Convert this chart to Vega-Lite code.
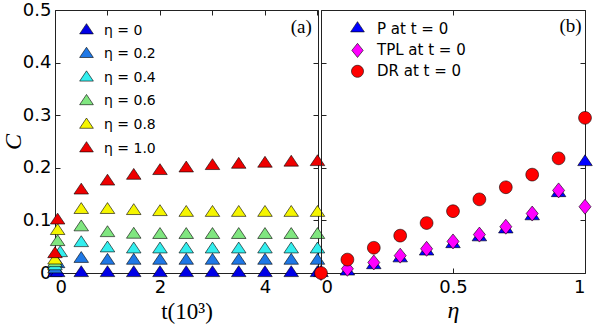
{
  "$schema": "https://vega.github.io/schema/vega-lite/v6.json",
  "background": "white",
  "padding": {"left": 0, "top": 0, "right": 0, "bottom": 0},
  "spacing": 3,
  "bounds": "flush",
  "resolve": {"scale": {"fill": "independent", "shape": "independent"}, "legend": {"fill": "independent", "shape": "independent"}},
  "config": {
    "view": {"stroke": "#222", "strokeWidth": 1},
    "axis": {
      "grid": false, "domain": false,
      "labelFont": "DejaVu Sans", "labelFontSize": 18, "labelColor": "#000",
      "tickColor": "#222", "tickSize": 5, "offset": -5, "labelPadding": 5,
      "titleFont": "Liberation Serif", "titleFontSize": 23, "titleFontWeight": "normal", "titleColor": "#000"
    }
  },
  "datasets": {
    "a": [
      {"t": 0, "C": 0, "g": "η = 0"}, {"t": 0.05, "C": 0, "g": "η = 0"},
      {"t": 0.5, "C": 0, "g": "η = 0"}, {"t": 1, "C": 0, "g": "η = 0"}, {"t": 1.5, "C": 0, "g": "η = 0"}, {"t": 2, "C": 0, "g": "η = 0"}, {"t": 2.5, "C": 0, "g": "η = 0"},
      {"t": 3, "C": 0, "g": "η = 0"}, {"t": 3.5, "C": 0, "g": "η = 0"}, {"t": 4, "C": 0, "g": "η = 0"}, {"t": 4.5, "C": 0, "g": "η = 0"}, {"t": 5, "C": 0, "g": "η = 0"},
      {"t": 0, "C": 0.007, "g": "η = 0.2"}, {"t": 0.05, "C": 0.017, "g": "η = 0.2"},
      {"t": 0.5, "C": 0.027, "g": "η = 0.2"}, {"t": 1, "C": 0.0235, "g": "η = 0.2"}, {"t": 1.5, "C": 0.0235, "g": "η = 0.2"}, {"t": 2, "C": 0.0235, "g": "η = 0.2"}, {"t": 2.5, "C": 0.0235, "g": "η = 0.2"},
      {"t": 3, "C": 0.0235, "g": "η = 0.2"}, {"t": 3.5, "C": 0.0235, "g": "η = 0.2"}, {"t": 4, "C": 0.0235, "g": "η = 0.2"}, {"t": 4.5, "C": 0.0235, "g": "η = 0.2"}, {"t": 5, "C": 0.0235, "g": "η = 0.2"},
      {"t": 0, "C": 0.013, "g": "η = 0.4"}, {"t": 0.1, "C": 0.038, "g": "η = 0.4"},
      {"t": 0.5, "C": 0.057, "g": "η = 0.4"}, {"t": 1, "C": 0.047, "g": "η = 0.4"}, {"t": 1.5, "C": 0.045, "g": "η = 0.4"}, {"t": 2, "C": 0.045, "g": "η = 0.4"}, {"t": 2.5, "C": 0.045, "g": "η = 0.4"},
      {"t": 3, "C": 0.045, "g": "η = 0.4"}, {"t": 3.5, "C": 0.045, "g": "η = 0.4"}, {"t": 4, "C": 0.045, "g": "η = 0.4"}, {"t": 4.5, "C": 0.045, "g": "η = 0.4"}, {"t": 5, "C": 0.045, "g": "η = 0.4"},
      {"t": 0, "C": 0.019, "g": "η = 0.6"}, {"t": 0.05, "C": 0.059, "g": "η = 0.6"},
      {"t": 0.5, "C": 0.087, "g": "η = 0.6"}, {"t": 1, "C": 0.076, "g": "η = 0.6"}, {"t": 1.5, "C": 0.073, "g": "η = 0.6"}, {"t": 2, "C": 0.0725, "g": "η = 0.6"}, {"t": 2.5, "C": 0.0725, "g": "η = 0.6"},
      {"t": 3, "C": 0.0725, "g": "η = 0.6"}, {"t": 3.5, "C": 0.0725, "g": "η = 0.6"}, {"t": 4, "C": 0.0725, "g": "η = 0.6"}, {"t": 4.5, "C": 0.0725, "g": "η = 0.6"}, {"t": 5, "C": 0.0725, "g": "η = 0.6"},
      {"t": 0, "C": 0.024, "g": "η = 0.8"}, {"t": 0.05, "C": 0.080, "g": "η = 0.8"},
      {"t": 0.5, "C": 0.120, "g": "η = 0.8"}, {"t": 1, "C": 0.120, "g": "η = 0.8"}, {"t": 1.5, "C": 0.118, "g": "η = 0.8"}, {"t": 2, "C": 0.116, "g": "η = 0.8"}, {"t": 2.5, "C": 0.1145, "g": "η = 0.8"},
      {"t": 3, "C": 0.1145, "g": "η = 0.8"}, {"t": 3.5, "C": 0.1145, "g": "η = 0.8"}, {"t": 4, "C": 0.1145, "g": "η = 0.8"}, {"t": 4.5, "C": 0.1145, "g": "η = 0.8"}, {"t": 5, "C": 0.1145, "g": "η = 0.8"},
      {"t": 0, "C": 0.036, "g": "η = 1.0"}, {"t": 0.05, "C": 0.100, "g": "η = 1.0"},
      {"t": 0.5, "C": 0.157, "g": "η = 1.0"}, {"t": 1, "C": 0.174, "g": "η = 1.0"}, {"t": 1.5, "C": 0.185, "g": "η = 1.0"}, {"t": 2, "C": 0.194, "g": "η = 1.0"}, {"t": 2.5, "C": 0.199, "g": "η = 1.0"},
      {"t": 3, "C": 0.2035, "g": "η = 1.0"}, {"t": 3.5, "C": 0.206, "g": "η = 1.0"}, {"t": 4, "C": 0.208, "g": "η = 1.0"}, {"t": 4.5, "C": 0.210, "g": "η = 1.0"}, {"t": 5, "C": 0.211, "g": "η = 1.0"}
    ],
    "b": [
      {"eta": 0, "C": 0, "s": "P at t = 0"}, {"eta": 0.1, "C": 0.003, "s": "P at t = 0"}, {"eta": 0.2, "C": 0.015, "s": "P at t = 0"}, {"eta": 0.3, "C": 0.028, "s": "P at t = 0"},
      {"eta": 0.4, "C": 0.041, "s": "P at t = 0"}, {"eta": 0.5, "C": 0.055, "s": "P at t = 0"}, {"eta": 0.6, "C": 0.068, "s": "P at t = 0"}, {"eta": 0.7, "C": 0.083, "s": "P at t = 0"},
      {"eta": 0.8, "C": 0.108, "s": "P at t = 0"}, {"eta": 0.9, "C": 0.152, "s": "P at t = 0"}, {"eta": 1.0, "C": 0.211, "s": "P at t = 0"},
      {"eta": 0, "C": 0, "s": "TPL at t = 0"}, {"eta": 0.1, "C": 0.008, "s": "TPL at t = 0"}, {"eta": 0.2, "C": 0.020, "s": "TPL at t = 0"}, {"eta": 0.3, "C": 0.033, "s": "TPL at t = 0"},
      {"eta": 0.4, "C": 0.046, "s": "TPL at t = 0"}, {"eta": 0.5, "C": 0.060, "s": "TPL at t = 0"}, {"eta": 0.6, "C": 0.073, "s": "TPL at t = 0"}, {"eta": 0.7, "C": 0.088, "s": "TPL at t = 0"},
      {"eta": 0.8, "C": 0.113, "s": "TPL at t = 0"}, {"eta": 0.9, "C": 0.157, "s": "TPL at t = 0"}, {"eta": 1.0, "C": 0.126, "s": "TPL at t = 0"},
      {"eta": 0, "C": 0, "s": "DR at t = 0"}, {"eta": 0.1, "C": 0.0255, "s": "DR at t = 0"}, {"eta": 0.2, "C": 0.048, "s": "DR at t = 0"}, {"eta": 0.3, "C": 0.071, "s": "DR at t = 0"},
      {"eta": 0.4, "C": 0.095, "s": "DR at t = 0"}, {"eta": 0.5, "C": 0.1175, "s": "DR at t = 0"}, {"eta": 0.6, "C": 0.140, "s": "DR at t = 0"}, {"eta": 0.7, "C": 0.163, "s": "DR at t = 0"},
      {"eta": 0.8, "C": 0.187, "s": "DR at t = 0"}, {"eta": 0.9, "C": 0.218, "s": "DR at t = 0"}, {"eta": 1.0, "C": 0.295, "s": "DR at t = 0"}
    ],
    "annA": [{"t": 4.69, "C": 0.468, "label": "(a)"}],
    "annB": [{"eta": 0.945, "C": 0.47, "label": "(b)"}]
  },
  "hconcat": [
    {
      "width": 263, "height": 263,
      "layer": [
        {
          "data": {"name": "a"},
          "mark": {"type": "point", "filled": true, "opacity": 1, "stroke": "#000", "strokeWidth": 0.6, "size": 225, "shape": "M-0.97,0.48L0,-0.97L0.97,0.48Z"},
          "encoding": {
            "x": {"field": "t", "type": "quantitative", "scale": {"domain": [0, 5.01], "nice": false, "zero": false},
                  "axis": {"orient": "bottom", "values": [0, 2, 4], "format": "~g", "title": "t(10³)", "titlePadding": 4}},
            "y": {"field": "C", "type": "quantitative", "scale": {"domain": [0, 0.5], "nice": false},
                  "axis": {"orient": "left", "values": [0, 0.1, 0.2, 0.3, 0.4, 0.5], "format": "~g", "title": "C", "titleFontStyle": "italic", "titleFontSize": 24, "titlePadding": 0, "labelPadding": 4, "minExtent": 35, "maxExtent": 35}},
            "fill": {"field": "g", "type": "nominal",
                     "scale": {"domain": ["η = 0", "η = 0.2", "η = 0.4", "η = 0.6", "η = 0.8", "η = 1.0"],
                               "range": ["#0000e6", "#1f78e6", "#33eeee", "#80e680", "#f5f500", "#ee0000"]},
                     "legend": {"orient": "none", "legendX": 24, "legendY": 13, "title": null, "padding": 0,
                                "symbolType": "M-0.97,0.48L0,-0.97L0.97,0.48Z", "symbolSize": 200,
                                "symbolStrokeColor": "#000", "symbolStrokeWidth": 0.6,
                                "labelFont": "DejaVu Sans", "labelFontSize": 14, "labelColor": "#000",
                                "labelOffset": 10, "rowPadding": 7.6}}
          }
        },
        {
          "data": {"name": "annA"},
          "mark": {"type": "text", "font": "Liberation Serif", "fontSize": 19, "color": "#000", "align": "center", "baseline": "middle"},
          "encoding": {
            "x": {"field": "t", "type": "quantitative", "axis": {"orient": "top", "values": [0, 1, 2, 3, 4, 5], "labels": false, "title": null, "minExtent": 0, "maxExtent": 0}},
            "y": {"field": "C", "type": "quantitative", "axis": {"orient": "right", "values": [0, 0.1, 0.2, 0.3, 0.4, 0.5], "labels": false, "title": null, "minExtent": 0, "maxExtent": 0}},
            "text": {"field": "label"}
          }
        }
      ]
    },
    {
      "width": 264, "height": 263,
      "layer": [
        {
          "data": {"name": "b"},
          "mark": {"type": "point", "filled": true, "opacity": 1, "stroke": "#000", "strokeWidth": 0.6, "size": 225},
          "encoding": {
            "x": {"field": "eta", "type": "quantitative", "scale": {"domain": [0, 1], "nice": false},
                  "axis": {"orient": "bottom", "values": [0, 0.5, 1], "format": "~g", "title": "η", "titleFontStyle": "italic", "titleFontSize": 24, "titlePadding": 2}},
            "y": {"field": "C", "type": "quantitative", "scale": {"domain": [0, 0.5], "nice": false},
                  "axis": {"orient": "left", "values": [0, 0.1, 0.2, 0.3, 0.4, 0.5], "labels": false, "title": null, "minExtent": 0, "maxExtent": 0}},
            "fill": {"field": "s", "type": "nominal",
                     "scale": {"domain": ["P at t = 0", "TPL at t = 0", "DR at t = 0"], "range": ["#0000ff", "#ff00ff", "#ff0000"]},
                     "legend": {"orient": "none", "legendX": 29, "legendY": 11, "title": null, "padding": 0,
                                "symbolSize": 200, "symbolStrokeColor": "#000", "symbolStrokeWidth": 0.6,
                                "labelFont": "DejaVu Sans", "labelFontSize": 15, "labelColor": "#000",
                                "labelOffset": 12, "rowPadding": 4.9}},
            "shape": {"field": "s", "type": "nominal",
                      "scale": {"domain": ["P at t = 0", "TPL at t = 0", "DR at t = 0"],
                                "range": ["M-0.97,0.48L0,-0.97L0.97,0.48Z", "M-0.8,0L0,-1L0.8,0L0,1Z", "M0.85,0A0.85,0.85,0,1,1,-0.85,0A0.85,0.85,0,1,1,0.85,0Z"]}}
          }
        },
        {
          "data": {"name": "annB"},
          "mark": {"type": "text", "font": "Liberation Serif", "fontSize": 19, "color": "#000", "align": "center", "baseline": "middle"},
          "encoding": {
            "x": {"field": "eta", "type": "quantitative", "axis": {"orient": "top", "values": [0, 0.5, 1], "labels": false, "title": null, "minExtent": 0, "maxExtent": 0}},
            "y": {"field": "C", "type": "quantitative", "axis": {"orient": "right", "values": [0, 0.1, 0.2, 0.3, 0.4, 0.5], "labels": false, "title": null, "minExtent": 0, "maxExtent": 0}},
            "text": {"field": "label"}
          }
        }
      ]
    }
  ]
}
